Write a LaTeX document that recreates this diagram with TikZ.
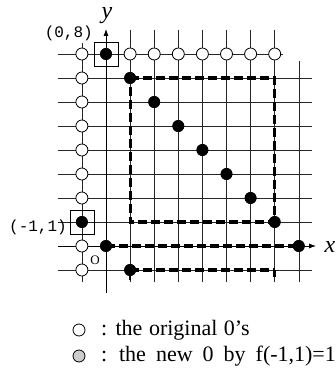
\documentclass[tikz,border=0pt]{standalone}
\usepackage{fontspec}
\setmainfont{Liberation Serif}
\newfontfamily\monof{Liberation Mono}
\usetikzlibrary{arrows.meta}
\newcommand\legspacing[1]{\spaceskip=#1\relax}
\begin{document}
\begin{tikzpicture}[x=24.1bp,y=24bp,
  gridline/.style={line width=0.55bp,black!85},
  axisline/.style={line width=1bp,-{Latex[length=7bp,width=5bp]}},
  thickdash/.style={line width=3.1bp,dash pattern=on 9bp off 4bp},
  opendot/.style={circle,draw,line width=0.8bp,fill=white,minimum size=12bp,inner sep=0pt},
  fulldot/.style={circle,fill=black,minimum size=12bp,inner sep=0pt},
  markbox/.style={draw,line width=0.6bp,minimum size=24bp,inner sep=0pt},
  newdot/.style={circle,draw,line width=0.8bp,fill=black!20,minimum size=12bp,inner sep=0pt},
  lbl/.style={font=\fontsize{22bp}{24bp}\selectfont,anchor=west,inner sep=0pt},
  coordlbl/.style={font=\monof\fontsize{16bp}{18bp}\selectfont,anchor=east,inner sep=0pt},
  axislbl/.style={font=\itshape\fontsize{24bp}{28bp}\selectfont,inner sep=0pt,anchor=base,text height=10bp,text depth=5bp},
]
\useasboundingbox (-106bp,-125bp) rectangle (230bp,246bp);
% grid
\foreach \r in {-1,...,7} \draw[gridline] (-1.99,\r) -- (8.55,\r);
\draw[gridline] (-1.99,8) -- (7.35,8);
\draw[gridline] (-1,-1.5) -- (-1,8.46);
\foreach \c in {1,...,7} \draw[gridline] (\c,-1.5) -- (\c,9);
\draw[gridline] (8,-1.5) -- (8,7.7);
% axes
\coordinate (xend) at (8.72,0);
\coordinate (yend) at (0,9.05);
\coordinate (ybot) at (0,-1.96);
\coordinate (xbeg) at (-1.99,0);
\draw[axisline] (ybot) -- (yend);
\draw[axisline] (xbeg) -- (xend);
% dots
\node[fulldot] (d08) at (0,8) {};
\node[fulldot] (d17) at (1,7) {};
\node[fulldot] (d26) at (2,6) {};
\node[fulldot] (d35) at (3,5) {};
\node[fulldot] (d44) at (4,4) {};
\node[fulldot] (d53) at (5,3) {};
\node[fulldot] (d62) at (6,2) {};
\node[fulldot] (d71) at (7,1) {};
\node[fulldot] (d80) at (8,0) {};
\node[fulldot] (d00) at (0,0) {};
\node[fulldot] (d1m) at (1,-1) {};
\node[fulldot] (dm1) at (-1,1) {};
\coordinate (c77) at (7,7);
\coordinate (c11) at (1,1);
\coordinate (c7m) at (7,-1);
\coordinate (c7mm) at (7,-1.3);
\coordinate (c1mm) at (1,-1.4);
% dashed paths
\draw[thickdash] (d17.center) -- (c77) -- (d71.center) -- (c11) -- cycle;
\draw[thickdash] (d00.center) -- (d80.center);
\draw[thickdash] (d1m.center) -- (c7m);
\draw[line width=2.6bp] (c7m) -- (c7mm);
\draw[line width=2.2bp] (d1m.center) -- (c1mm);
% redraw dots on top
\foreach \p/\q in {0/8,1/7,2/6,3/5,4/4,5/3,6/2,7/1,8/0,0/0,1/-1,-1/1}
  \fill (\p,\q) circle (5.8bp);
% open circles
\foreach \q in {8,7,6,5,4,3,2,0,-1} \node[opendot] (o\q) at (-1,\q) {};
\foreach \p in {1,...,7} \node[opendot] (t\p) at (\p,8) {};
% boxes
\node[markbox] (b08) at (d08) {};
\node[markbox] (bm1) at (dm1) {};
% labels
\node[coordlbl] (l08) at (-13bp,213bp) {(0,8)};
\node[coordlbl] (lm1) at (-39bp,19bp) {(-1,1)};
\node[font=\fontsize{13bp}{15bp}\selectfont,inner sep=0pt] (lo) at (-11bp,-14bp) {O};
\node[axislbl] (ly) at (1bp,227bp) {y};
\node[axislbl] (lx) at (224bp,-6bp) {x};
% legend
\node[opendot] (leg1) at (-27bp,-84bp) {};
\node[lbl] (leg1t) at (-5bp,-84bp) {\legspacing{6.5bp}: the original 0’s};
\node[newdot] (leg2) at (-27bp,-110bp) {};
\node[lbl] (leg2t) at (-5bp,-110bp) {\legspacing{10bp}: the new 0 by f(-1,1)=1};
\end{tikzpicture}
\end{document}
